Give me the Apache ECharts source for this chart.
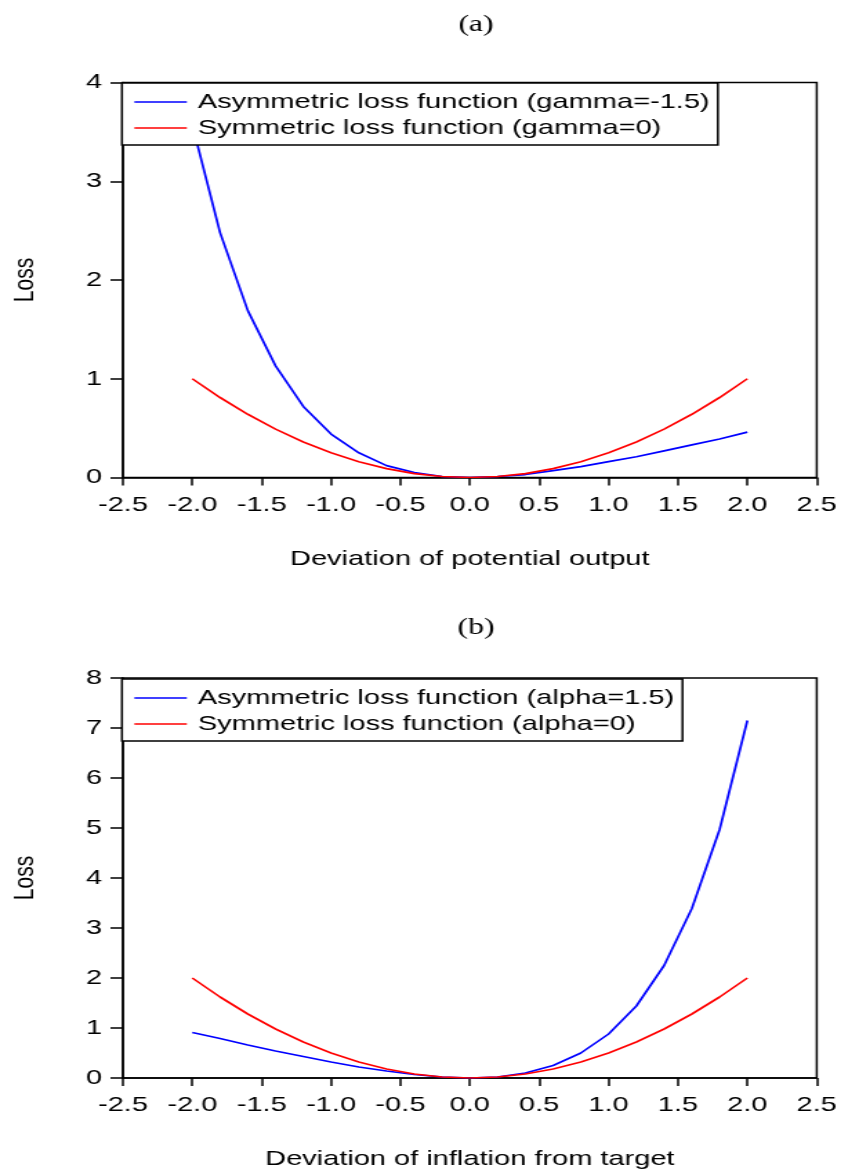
<!DOCTYPE html>
<html>
<head>
<meta charset="utf-8">
<script src="https://cdn.jsdelivr.net/npm/echarts@6/dist/echarts.min.js"></script>
<style>
  html, body { margin: 0; padding: 0; background: #fff; overflow: hidden; }
  /* the reference is stretched sideways, so the chart is drawn narrower and widened */
  #main { width: 609px; height: 1172px; transform: scaleX(1.381); transform-origin: 0 0; }
</style>
</head>
<body>
<div id="main"></div>
<script>
// x positions of the points (same for both panels)
const devs = [-2.0, -1.8, -1.6, -1.4, -1.2, -1.0, -0.8, -0.6, -0.4, -0.2, 0.0,
              0.2, 0.4, 0.6, 0.8, 1.0, 1.2, 1.4, 1.6, 1.8, 2.0];

// panel (a): output gap
const outputAsym = [3.57, 2.48, 1.69, 1.13, 0.72, 0.44, 0.25, 0.12, 0.05, 0.01, 0.00,
                    0.01, 0.03, 0.07, 0.11, 0.16, 0.21, 0.27, 0.33, 0.39, 0.46];
const outputSym = [1.00, 0.81, 0.64, 0.49, 0.36, 0.25, 0.16, 0.09, 0.04, 0.01, 0.00,
                   0.01, 0.04, 0.09, 0.16, 0.25, 0.36, 0.49, 0.64, 0.81, 1.00];

// panel (b): inflation gap
const inflAsym = [0.91, 0.79, 0.66, 0.54, 0.43, 0.32, 0.22, 0.14, 0.07, 0.02, 0.00,
                  0.02, 0.10, 0.25, 0.50, 0.88, 1.44, 2.25, 3.39, 4.97, 7.15];
const inflSym = [2.00, 1.62, 1.28, 0.98, 0.72, 0.50, 0.32, 0.18, 0.08, 0.02, 0.00,
                 0.02, 0.08, 0.18, 0.32, 0.50, 0.72, 0.98, 1.28, 1.62, 2.00];

const namesA = ['Asymmetric loss function (gamma=-1.5)', 'Symmetric loss function (gamma=0)'];
const namesB = ['Asymmetric loss function (alpha=1.5)', 'Symmetric loss function (alpha=0)'];
const panelTags = ['(a)', '(b)'];
const xTitles = ['Deviation of potential output', 'Deviation of inflation from target'];
const yTitle = 'Loss';

function pairs(vals) {
    return devs.map((x, i) => [x, vals[i]]);
}

const font = "'Liberation Sans', Arial, sans-serif";
const serif = "'Liberation Serif', 'Times New Roman', serif";

function xAx(idx) {
    return {
        type: 'value', gridIndex: idx, min: -2.5, max: 2.5, interval: 0.5,
        name: xTitles[idx], nameLocation: 'middle', nameGap: 71,
        nameTextStyle: { color: '#000', fontFamily: font, fontSize: 21 },
        axisLine: { onZero: false, lineStyle: { color: '#000', width: 1.5 } },
        axisTick: { inside: false, length: 8, lineStyle: { color: '#000', width: 1.5 } },
        axisLabel: { color: '#000', fontFamily: font, fontSize: 21, margin: 17,
                     formatter: v => v.toFixed(1) },
        splitLine: { show: false }
    };
}

function yAx(idx, max) {
    return {
        type: 'value', gridIndex: idx, min: 0, max: max, interval: 1,
        name: yTitle, nameLocation: 'middle', nameGap: 60, nameRotate: 90,
        nameTextStyle: { color: '#000', fontFamily: font, fontSize: 21 },
        axisLine: { onZero: false, lineStyle: { color: '#000', width: 1.5 } },
        axisTick: { length: 9, lineStyle: { color: '#000', width: 1.5 } },
        axisLabel: { color: '#000', fontFamily: font, fontSize: 21, margin: 15 },
        splitLine: { show: false }
    };
}

function leg(names, top) {
    return {
        orient: 'vertical', left: 88.3, top: top,
        data: names.map(n => ({ name: n, icon: 'rect' })),
        itemWidth: 38, itemHeight: 1.6, itemGap: 2,
        padding: [7, 6, 5, 9],
        backgroundColor: '#fff', borderColor: '#000', borderWidth: 1.5, borderRadius: 0,
        textStyle: { color: '#000', fontFamily: font, fontSize: 21, lineHeight: 24,
                     padding: [0, 0, 0, 3] }
    };
}

function line(name, vals, idx, color) {
    return {
        name: name, type: 'line', xAxisIndex: idx, yAxisIndex: idx,
        data: pairs(vals), symbol: 'none', showSymbol: false, smooth: false,
        lineStyle: { color: color, width: 1.7 }, itemStyle: { color: color }
    };
}

function tag(text, y) {
    return {
        type: 'text', x: 344.7, y: y,
        style: { text: text, fill: '#000', font: "23px " + serif,
                 textAlign: 'center', textVerticalAlign: 'middle' }
    };
}

const chart = echarts.init(document.getElementById('main'));
chart.setOption({
    animation: false,
    backgroundColor: '#fff',
    graphic: [tag(panelTags[0], 25), tag(panelTags[1], 628)],
    grid: [
        { left: 84.7, width: 506.9, top: 82.5, height: 395, show: true,
          borderColor: '#000', borderWidth: 1.5, backgroundColor: 'transparent' },
        { left: 84.7, width: 506.9, top: 678, height: 400, show: true,
          borderColor: '#000', borderWidth: 1.5, backgroundColor: 'transparent' }
    ],
    xAxis: [xAx(0), xAx(1)],
    yAxis: [yAx(0, 4), yAx(1, 8)],
    legend: [leg(namesA, 83), leg(namesB, 679)],
    series: [
        line(namesA[0], outputAsym, 0, '#0000ff'),
        line(namesA[1], outputSym, 0, '#ff0000'),
        line(namesB[0], inflAsym, 1, '#0000ff'),
        line(namesB[1], inflSym, 1, '#ff0000')
    ]
});
</script>
</body>
</html>
